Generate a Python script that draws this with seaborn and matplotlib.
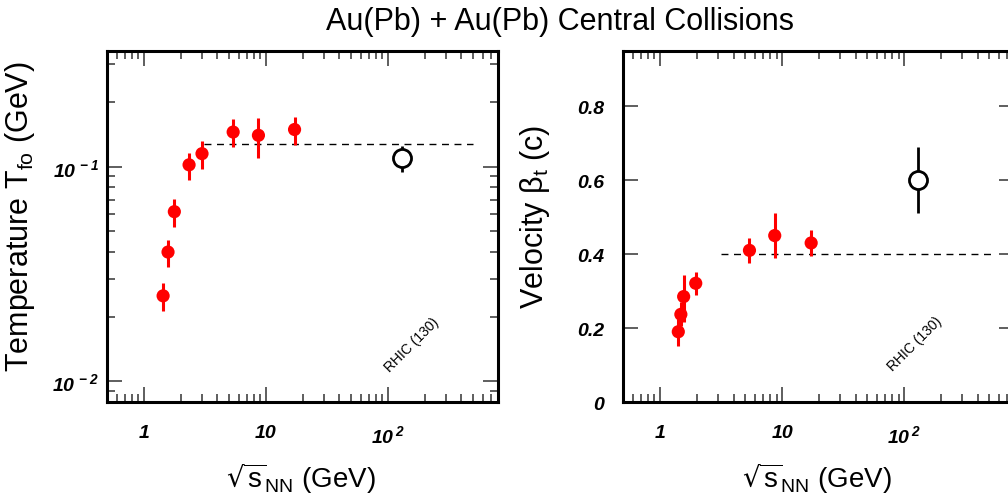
import numpy as np
import matplotlib
matplotlib.use('Agg')
import matplotlib.pyplot as plt
import seaborn as sns
from matplotlib.ticker import LogLocator, NullFormatter, NullLocator

# freeze-out temperature vs sqrt(s_NN)
x_temp = [1.44, 1.58, 1.78, 2.35, 3.0, 5.4, 8.7, 17.2]
temp = [0.025, 0.040, 0.0617, 0.102, 0.115, 0.145, 0.140, 0.149]
temp_lo = [0.0212, 0.0339, 0.0526, 0.0865, 0.0976, 0.123, 0.110, 0.126]
temp_hi = [0.0286, 0.0457, 0.0708, 0.116, 0.132, 0.166, 0.169, 0.170]

# transverse flow velocity vs sqrt(s_NN)
x_beta = [1.41, 1.48, 1.56, 1.96, 5.4, 8.7, 17.3]
beta = [0.19, 0.237, 0.285, 0.321, 0.41, 0.45, 0.43]
beta_lo = [0.151, 0.205, 0.217, 0.29, 0.376, 0.39, 0.396]
beta_hi = [0.225, 0.27, 0.344, 0.351, 0.443, 0.51, 0.464]

# RHIC (130) open point
x_rhic = [130]
temp_rhic, temp_rhic_lo, temp_rhic_hi = [0.110], [0.094], [0.1245]
beta_rhic, beta_rhic_lo, beta_rhic_hi = [0.60], [0.512], [0.689]

# dashed plateau lines
plateau_x_temp = [3.1, 500]
plateau_temp = [0.128, 0.128]
plateau_x_beta = [3.15, 515]
plateau_beta = [0.4, 0.4]

sns.set_theme(style='ticks')
plt.rcParams['font.family'] = ['Liberation Sans', 'DejaVu Sans']
plt.rcParams['mathtext.default'] = 'regular'
for k in ['text.color', 'axes.labelcolor', 'xtick.color', 'ytick.color']:
    plt.rcParams[k] = 'black'

fig = plt.figure(figsize=(10.08, 5.02), dpi=100)
ax1 = fig.add_axes([0.1062, 0.1972, 0.3879, 0.6992])
ax2 = fig.add_axes([0.6184, 0.1972, 0.3879, 0.6992])

tick_font = dict(fontsize=14, fontweight='bold', fontstyle='italic')


def draw(ax, x, y, lo, hi, yr, yr_lo, yr_hi, px, py):
    y = np.array(y)
    ax.errorbar(x, y, yerr=[y - np.array(lo), np.array(hi) - y], fmt='none',
                ecolor='red', elinewidth=2.2, capsize=0, zorder=3)
    sns.scatterplot(x=x, y=y, ax=ax, color='red', s=90, edgecolor='none', zorder=4)
    yr = np.array(yr)
    ax.errorbar(x_rhic, yr, yerr=[yr - np.array(yr_lo), np.array(yr_hi) - yr], fmt='o',
                mfc='white', mec='black', mew=2, ms=13, ecolor='black', elinewidth=2,
                capsize=0, zorder=4)
    sns.lineplot(x=px, y=py, ax=ax, color='black', lw=1, linestyle=(0, (5, 4)), zorder=2)
    ax.set_xscale('log')
    ax.set_xlim(0.5, 800)
    ax.xaxis.set_minor_locator(LogLocator(base=10, subs=np.arange(2, 10), numticks=20))
    ax.xaxis.set_minor_formatter(NullFormatter())
    ax.set_xticks([1, 10, 100], labels=['1', '10', '10$^{\\,2}$'], **tick_font)
    for s in ax.spines.values():
        s.set_linewidth(2.2)
        s.set_color('black')
    ax.tick_params(which='major', direction='in', length=11, width=1.1, color='#333333',
                   top=True, right=True)
    ax.tick_params(which='minor', direction='in', length=5.5, width=1.1, color='#333333',
                   top=True, right=True)
    ax.tick_params(axis='x', which='major', pad=16)
    ax.set_xlabel(r'$\sqrt{s}_{NN}$ (GeV)', fontsize=20)
    ax.xaxis.set_label_coords(0.495, -0.215)
    ax.xaxis.label.set_va('center')
    ax.yaxis.label.set_va('center')


draw(ax1, x_temp, temp, temp_lo, temp_hi, temp_rhic, temp_rhic_lo, temp_rhic_hi,
     plateau_x_temp, plateau_temp)
ax1.set_yscale('log')
ax1.set_ylim(0.008, 0.346)
ax1.set_yticks([0.01, 0.1], labels=['10$^{\\,-2}$', '10$^{\\,-1}$'], **tick_font)
ax1.yaxis.set_minor_locator(LogLocator(base=10, subs=np.arange(2, 10), numticks=20))
ax1.yaxis.set_minor_formatter(NullFormatter())
ax1.tick_params(axis='y', which='major', pad=6)
ax1.set_ylabel('Temperature T$_{fo}$ (GeV)', fontsize=22)
ax1.yaxis.set_label_coords(-0.222, 0.53)
ax1.text(157, 0.0149, 'RHIC (130)', rotation=45, ha='center', va='center',
         rotation_mode='anchor', fontsize=10)

draw(ax2, x_beta, beta, beta_lo, beta_hi, beta_rhic, beta_rhic_lo, beta_rhic_hi,
     plateau_x_beta, plateau_beta)
ax2.set_ylim(0, 0.949)
ax2.set_yticks([0, 0.2, 0.4, 0.6, 0.8], labels=['0', '0.2', '0.4', '0.6', '0.8'], **tick_font)
ax2.yaxis.set_minor_locator(NullLocator())
ax2.tick_params(axis='y', which='major', pad=14)
ax2.set_ylabel('Velocity β$_{t}$ (c)', fontsize=22)
ax2.yaxis.set_label_coords(-0.225, 0.53)
ax2.text(122, 0.158, 'RHIC (130)', rotation=45, ha='center', va='center',
         rotation_mode='anchor', fontsize=10)

fig.text(0.556, 0.956, 'Au(Pb) + Au(Pb) Central Collisions', ha='center', va='center',
         fontsize=22)

fig.savefig('out.png', dpi=100, facecolor='white')
